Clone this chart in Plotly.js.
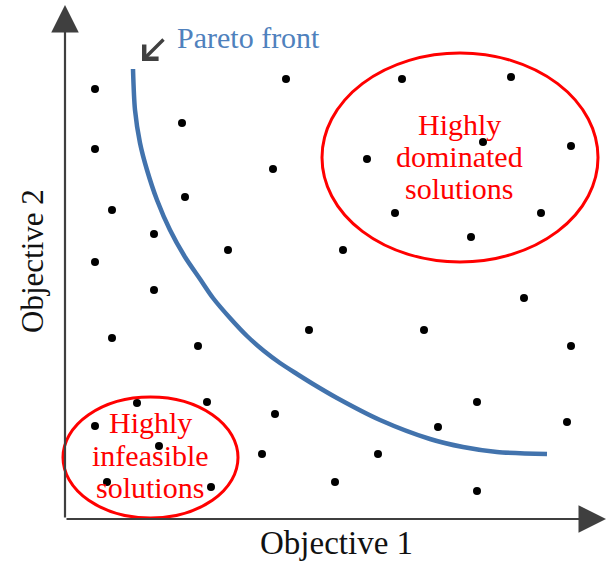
<!DOCTYPE html>
<html>
<head>
<meta charset="utf-8">
<script src="https://cdn.plot.ly/plotly-3.0.1.min.js"></script>
<style>html,body{margin:0;padding:0;background:#fff;}#chart{width:608px;height:561px;}</style>
</head>
<body>
<div id="chart"></div>
<script>
// Candidate solutions (Objective 1, Objective 2)
var solX = [30,117,221,30,208,120,47,89,163,30,337,446,418,506,302,330,476,406,278,89,47,133,244,72,142,210,30,94,197,42,146,459,359,506,412,373,502,313,270,412];
var solY = [430,396,440,370,350,322,309,285,269,257,440,442,377,373,360,306,306,282,269,229,181,173,189,116,117,105,93,73,65,37,32,221,189,173,117,92,97,65,37,28];

// Pareto front curve
var frontX = [68,70,75,82,92,105,120,135,148,165,182,199,215,232,248,272,315,365,398,432,482];
var frontY = [450,409,376,349,319,289,262,240,221,201,183,168,156,145,135,121,99,80,72,67,65];

// Region ellipses [x0, x1, y0, y1]
var dominatedBox = [257,533,257,466];
var infeasibleBox = [-2,173,1,122];

// Region label lines and their heights
var dominatedLines = ["Highly", "dominated", "solutions"];
var dominatedLineY = [395, 363, 331];
var infeasibleLines = ["Highly", "infeasible", "solutions"];
var infeasibleLineY = [97, 64, 32];

var frontLabel = "Pareto front";
var xTitle = "Objective 1";
var yTitle = "Objective 2";

var serif = "Liberation Serif, Times New Roman, serif";
var axisColor = "#3f3f3f";

var traces = [
  {x: frontX, y: frontY, mode: "lines", line: {color: "#4273ad", width: 4.5, shape: "spline", smoothing: 0.8}, hoverinfo: "skip"},
  {x: solX, y: solY, mode: "markers", marker: {color: "#000", size: 8}, hoverinfo: "skip"}
];

var annotations = [
  // axes
  {x: 0, y: 514, ax: 0, ay: 0, xref: "x", yref: "y", axref: "x", ayref: "y", text: "", showarrow: true, arrowhead: 2, arrowsize: 2.5, arrowwidth: 2.2, arrowcolor: axisColor},
  {x: 541, y: 0, ax: 0, ay: 0, xref: "x", yref: "y", axref: "x", ayref: "y", text: "", showarrow: true, arrowhead: 2, arrowsize: 2.5, arrowwidth: 2.2, arrowcolor: axisColor},
  // pareto pointer
  {x: 77, y: 458, ax: 100, ay: 481, xref: "x", yref: "y", axref: "x", ayref: "y", text: "", showarrow: true, arrowhead: 4, arrowsize: 1.15, arrowwidth: 3.4, arrowcolor: "#404040"},
  {x: 110, y: 482, xref: "x", yref: "y", text: frontLabel, showarrow: false, xanchor: "left", yanchor: "middle", font: {family: serif, size: 30, color: "#4f81bd"}},
  {x: 271, y: -24, xref: "x", yref: "y", text: xTitle, showarrow: false, xanchor: "center", yanchor: "middle", font: {family: serif, size: 33, color: "#111"}},
  {x: -33, y: 258, xref: "x", yref: "y", text: yTitle, showarrow: false, textangle: -90, xanchor: "center", yanchor: "middle", font: {family: serif, size: 31, color: "#111"}}
];
dominatedLines.forEach(function (t, i) {
  annotations.push({x: 394, y: dominatedLineY[i], xref: "x", yref: "y", text: t, showarrow: false, xanchor: "center", yanchor: "middle", font: {family: serif, size: 30, color: "#ff0000"}});
});
infeasibleLines.forEach(function (t, i) {
  annotations.push({x: 85, y: infeasibleLineY[i], xref: "x", yref: "y", text: t, showarrow: false, xanchor: "center", yanchor: "middle", font: {family: serif, size: 30, color: "#ff0000"}});
});

var layout = {
  width: 608, height: 561,
  margin: {l: 0, r: 0, t: 0, b: 0},
  paper_bgcolor: "#fff", plot_bgcolor: "#fff",
  showlegend: false,
  xaxis: {range: [-65, 543], visible: false, fixedrange: true},
  yaxis: {range: [-42, 519], visible: false, fixedrange: true},
  shapes: [
    {type: "circle", xref: "x", yref: "y", x0: dominatedBox[0], x1: dominatedBox[1], y0: dominatedBox[2], y1: dominatedBox[3], line: {color: "#ff0000", width: 3}},
    {type: "circle", xref: "x", yref: "y", x0: infeasibleBox[0], x1: infeasibleBox[1], y0: infeasibleBox[2], y1: infeasibleBox[3], line: {color: "#ff0000", width: 3}}
  ],
  annotations: annotations
};

Plotly.newPlot("chart", traces, layout, {staticPlot: true, displayModeBar: false});
</script>
</body>
</html>
